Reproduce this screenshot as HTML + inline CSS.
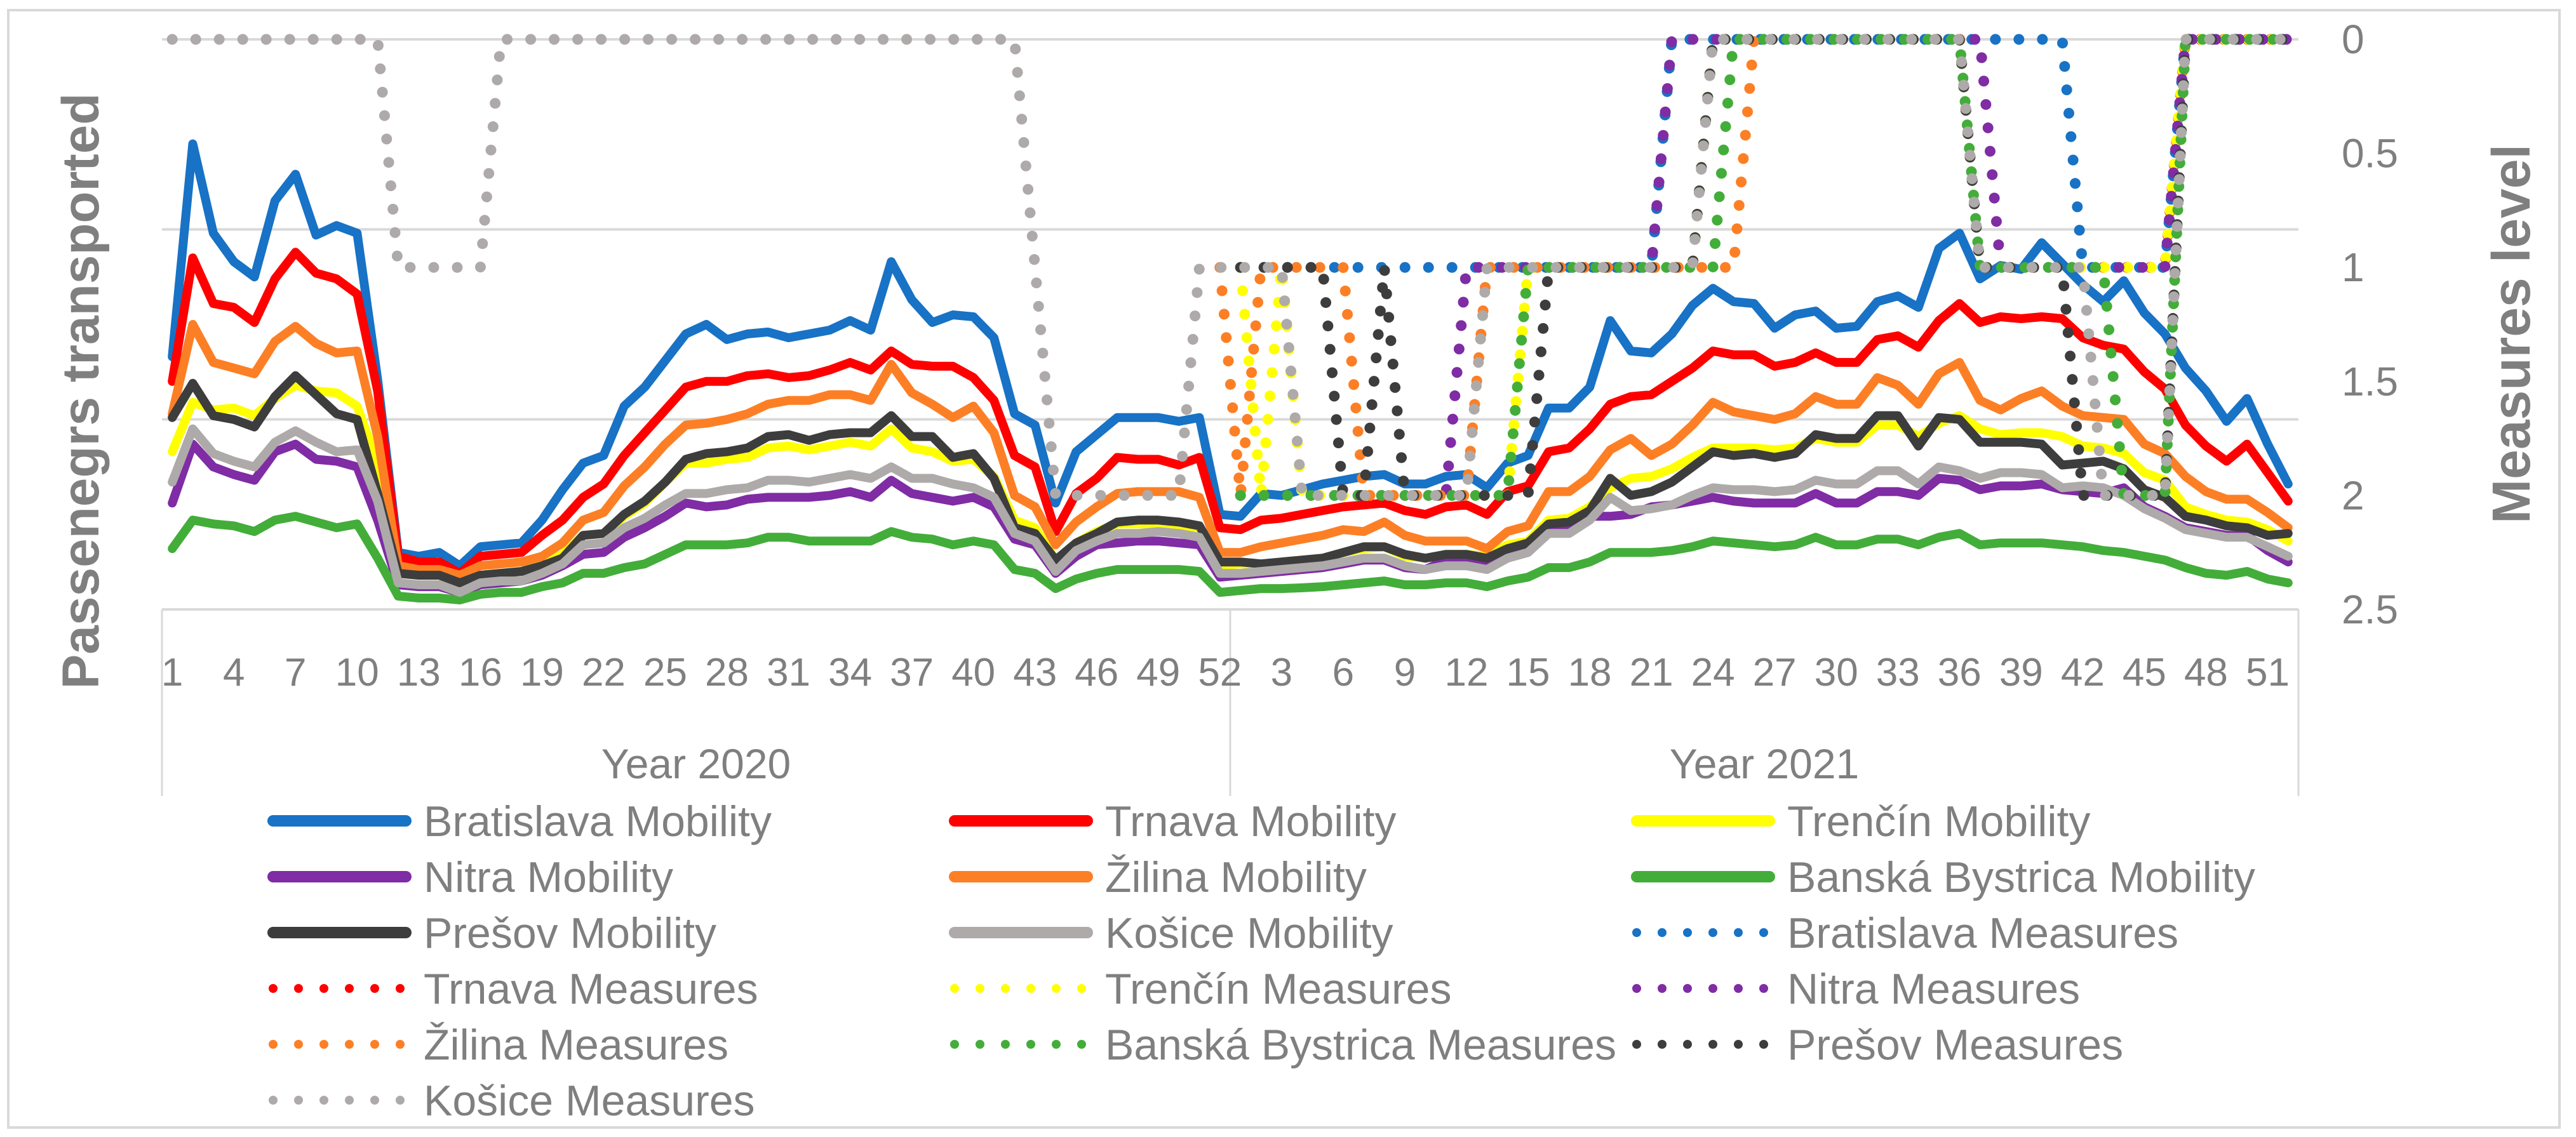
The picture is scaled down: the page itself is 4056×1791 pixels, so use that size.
<!DOCTYPE html>
<html><head><meta charset="utf-8"><style>
html,body{margin:0;padding:0;background:#fff;}
svg{display:block;font-family:"Liberation Sans",sans-serif;}
</style></head><body>
<svg id="chart" width="4056" height="1791" viewBox="0 0 4056 1791" xmlns="http://www.w3.org/2000/svg">
<rect x="13" y="16" width="4017" height="1760" fill="#fff" stroke="#d9d9d9" stroke-width="4"/>
<g id="grid"></g>
<g id="axes"></g>
<g id="series"></g>
<text transform="translate(155,616) rotate(-90)" text-anchor="middle" font-size="82" font-weight="bold" fill="#7f7f7f">Passenegrs transported</text>
<text transform="translate(3983,526) rotate(-90)" text-anchor="middle" font-size="84" font-weight="bold" fill="#7f7f7f">Measures level</text>
<g id="legend"></g>
</svg>
<script>
const weeks2020 = [1,2,3,4,5,6,7,8,9,10,11,12,13,14,15,16,17,18,19,20,21,22,23,24,25,26,27,28,29,30,31,32,33,34,35,36,37,38,39,40,41,42,43,44,45,46,47,48,49,50,51,52];
const weeks2021 = [1,2,3,4,5,6,7,8,9,10,11,12,13,14,15,16,17,18,19,20,21,22,23,24,25,26,27,28,29,30,31,32,33,34,35,36,37,38,39,40,41,42,43,44,45,46,47,48,49,50,51,52];
const yearLabels = ["Year 2020","Year 2021"];
const rightTicks = [0,0.5,1,1.5,2,2.5];
const leftGrid = [0,500,1000,1500];

const bratislavaMob = [665,1225,990,915,875,1075,1145,985,1010,990,605,150,140,150,115,165,170,175,235,315,385,405,535,585,655,725,
750,710,725,730,715,725,735,760,735,915,815,755,775,770,715,515,485,280,415,460,505,505,505,495,505,250,
245,305,300,315,330,340,350,355,330,330,350,355,320,385,405,530,530,585,760,680,675,725,800,845,810,805,
740,775,785,740,745,810,825,795,950,990,870,905,895,965,910,855,810,865,780,725,635,575,495,555,435,330];
const trnavaMob = [600,925,805,795,755,870,940,885,870,830,575,140,125,125,95,140,145,150,195,235,295,330,405,465,525,585,
600,600,615,620,610,615,630,650,630,680,645,640,640,610,550,405,375,205,305,345,400,395,395,380,400,215,
210,235,240,250,260,270,275,280,260,250,270,275,250,310,325,415,425,475,540,560,565,600,635,680,670,670,
640,650,675,650,650,710,720,690,760,805,755,770,765,770,765,715,695,685,625,580,485,430,390,435,360,285];
const trencinMob = [415,545,525,530,510,555,590,575,570,535,385,95,90,90,70,90,95,100,120,145,195,200,245,280,335,385,
385,395,400,425,430,420,430,440,430,475,425,415,390,395,350,235,215,130,175,205,225,225,225,220,215,115,
120,115,125,130,135,150,160,165,140,135,145,145,140,170,180,235,240,270,320,345,350,370,400,425,425,425,
420,425,450,440,440,485,485,455,490,510,475,460,465,465,455,430,425,410,360,340,270,250,235,230,210,180];
const nitraMob = [280,435,375,355,340,415,435,395,390,375,235,65,60,60,45,65,70,75,90,115,145,150,190,215,245,280,
270,275,290,295,295,295,300,310,295,340,305,295,285,295,270,185,170,95,140,170,175,180,180,175,170,85,
90,95,100,105,110,120,130,130,110,105,130,135,120,140,155,205,225,245,245,250,270,275,285,295,285,280,
280,280,305,280,280,310,310,300,345,340,315,325,325,330,315,310,305,320,270,245,215,205,195,195,155,125];
const zilinaMob = [515,750,650,635,620,705,745,700,675,680,455,115,105,105,90,115,120,125,140,175,235,255,325,375,435,485,
490,500,515,540,550,550,565,565,550,645,570,540,505,535,465,300,270,170,230,270,305,310,310,310,295,150,
150,165,175,185,195,210,205,230,195,180,180,180,160,205,220,310,310,350,420,450,405,435,485,545,520,510,
500,515,560,540,540,610,590,540,620,650,550,525,555,575,535,510,505,500,435,410,350,310,290,290,255,215];
const banskaBystricaMob = [160,235,225,220,205,235,245,230,215,225,135,35,30,30,25,40,45,45,60,70,95,95,110,120,145,170,
170,170,175,190,190,180,180,180,180,205,190,185,170,180,170,105,95,55,80,95,105,105,105,105,100,45,
50,55,55,57,60,65,70,75,65,65,70,70,60,75,85,110,110,125,150,150,150,155,165,180,175,170,
165,170,190,170,170,185,185,170,190,200,170,175,175,175,170,165,155,150,140,130,110,95,90,100,80,70];
const presovMob = [505,595,510,500,480,560,615,565,515,500,305,95,90,90,70,90,95,100,115,135,195,200,250,285,335,395,
410,415,425,455,460,445,460,465,465,510,455,455,400,410,345,215,200,130,175,200,230,235,235,230,220,125,
125,120,125,130,135,150,165,165,145,135,145,145,135,160,175,225,230,260,345,300,310,335,375,415,405,410,
400,410,460,450,450,510,510,430,505,500,440,440,440,435,380,385,390,370,315,295,245,235,220,215,195,200];
const kosiceMob = [335,475,410,390,375,440,470,440,415,420,285,70,65,65,45,70,75,75,95,120,170,175,215,240,275,305,
305,315,320,340,340,335,345,355,345,375,345,345,330,320,295,200,180,100,155,180,200,200,205,200,190,95,
95,100,105,110,115,125,135,135,115,105,115,115,105,135,150,200,200,235,295,260,265,275,300,320,315,315,
310,315,340,330,330,365,365,330,375,365,345,360,360,355,320,325,320,300,265,240,210,200,190,190,165,140];

const N = null;
const bratislavaMeas = [N,N,N,N,N,N,N,N,N,N,N,N,N,N,N,N,N,N,N,N,N,N,N,N,N,N,
N,N,N,N,N,N,N,N,N,N,N,N,N,N,N,N,N,N,N,N,N,N,N,N,N,N,
1,1,1,1,1,1,1,1,1,1,1,1,1,1,1,1,1,1,1,1,1,0,0,0,0,0,
0,0,0,0,0,0,0,0,0,0,0,0,0,0,0,1,1,1,1,1,0,0,0,0,0,0];
const trnavaMeas = [N,N,N,N,N,N,N,N,N,N,N,N,N,N,N,N,N,N,N,N,N,N,N,N,N,N,
N,N,N,N,N,N,N,N,N,N,N,N,N,N,N,N,N,N,N,N,N,N,N,N,N,N,
N,N,N,N,N,N,N,N,N,N,N,N,N,N,N,N,N,N,N,N,N,N,N,N,N,N,
N,N,N,N,N,N,N,N,N,0,1,1,1,1,1,1,1,1,1,1,0,0,0,0,0,0];
const trencinMeas = [N,N,N,N,N,N,N,N,N,N,N,N,N,N,N,N,N,N,N,N,N,N,N,N,N,N,
N,N,N,N,N,N,N,N,N,N,N,N,N,N,N,N,N,N,N,N,N,N,N,N,N,N,
1,2,1,2,2,2,2,2,2,2,2,2,2,2,1,1,1,1,1,1,1,1,1,0,0,0,
0,0,0,0,0,0,0,0,0,0,1,1,1,1,1,1,1,1,1,1,0,0,0,0,0,0];
const nitraMeas = [N,N,N,N,N,N,N,N,N,N,N,N,N,N,N,N,N,N,N,N,N,N,N,N,N,N,
N,N,N,N,N,N,N,N,N,N,N,N,N,N,N,N,N,N,N,N,N,N,N,N,N,N,
2,2,2,2,2,2,2,2,2,2,2,1,1,1,1,1,1,1,1,1,1,0,0,0,0,0,
0,0,0,0,0,0,0,0,0,0,0,1,1,1,1,1,1,1,1,1,0,0,0,0,0,0];
const zilinaMeas = [N,N,N,N,N,N,N,N,N,N,N,N,N,N,N,N,N,N,N,N,N,N,N,N,N,N,
N,N,N,N,N,N,N,N,N,N,N,N,N,N,N,N,N,N,N,N,N,N,N,N,N,1,
2,1,1,1,1,1,2,2,2,2,2,2,1,1,1,1,1,1,1,1,1,1,1,1,1,0,
0,N,N,N,N,N,N,N,N,N,N,N,N,N,N,N,N,N,N,N,N,N,N,N,N,N];
const banskaBystricaMeas = [N,N,N,N,N,N,N,N,N,N,N,N,N,N,N,N,N,N,N,N,N,N,N,N,N,N,
N,N,N,N,N,N,N,N,N,N,N,N,N,N,N,N,N,N,N,N,N,N,N,N,N,N,
2,2,2,2,2,2,2,2,2,2,2,2,2,2,1,1,1,1,1,1,1,1,1,1,0,0,
0,0,0,0,0,0,0,0,0,0,1,1,1,1,1,1,1,2,2,2,0,0,0,0,0,0];
const presovMeas = [N,N,N,N,N,N,N,N,N,N,N,N,N,N,N,N,N,N,N,N,N,N,N,N,N,N,
N,N,N,N,N,N,N,N,N,N,N,N,N,N,N,N,N,N,N,N,N,N,N,N,N,N,
1,1,1,1,1,2,2,1,2,2,2,2,2,2,2,1,1,1,1,1,1,1,1,0,0,0,
0,0,0,0,0,0,0,0,0,0,1,1,1,1,1,2,2,2,2,2,0,0,0,0,0,0];
const kosiceMeas = [0,0,0,0,0,0,0,0,0,0,0,1,1,1,1,1,0,0,0,0,0,0,0,0,0,0,
0,0,0,0,0,0,0,0,0,0,0,0,0,0,0,0,1,2,2,2,2,2,2,2,1,1,
1,1,1,2,2,2,2,2,2,2,2,2,1,1,1,1,1,1,1,1,1,1,1,0,0,0,
0,0,0,0,0,0,0,0,0,0,1,1,1,1,1,1,2,2,2,2,0,0,0,0,0,0];

const seriesNames = ["Bratislava","Trnava","Trenčín","Nitra","Žilina","Banská Bystrica","Prešov","Košice"];
const seriesColors = ["#1872c5","#ff0000","#ffff00","#7f2ca5","#fd7f25","#43ad3a","#3d3d3d","#aeaaaa"];
const mobility = [bratislavaMob,trnavaMob,trencinMob,nitraMob,zilinaMob,banskaBystricaMob,presovMob,kosiceMob];
const measures = [bratislavaMeas,trnavaMeas,trencinMeas,nitraMeas,zilinaMeas,banskaBystricaMeas,presovMeas,kosiceMeas];

const NS = "http://www.w3.org/2000/svg";
const PL = 255, PR = 3619, PT = 62, PB = 960;
const nCat = weeks2020.length + weeks2021.length;
const band = (PR - PL) / nCat;
function xPos(i){ return PL + (i + 0.5) * band; }
function yLeft(v){ return PB - v / 1500 * (PB - PT); }
function yRight(m){ return PT + m / 2.5 * (PB - PT); }
function mk(tag, attrs, parent){ const e = document.createElementNS(NS, tag); for (const k in attrs) e.setAttribute(k, attrs[k]); parent.appendChild(e); return e; }

const grid = document.getElementById('grid');
leftGrid.forEach(v => {
  const l = mk('line', {x1:PL, x2:PR, y1:yLeft(v), y2:yLeft(v), stroke:'#d9d9d9', 'stroke-width':4}, grid);
  
  
});

const axes = document.getElementById('axes');
[PL, PL + weeks2020.length * band, PR].forEach(x => {
  const l = mk('line', {x1:x, x2:x, y1:PB, y2:1254, stroke:'#d9d9d9', 'stroke-width':3}, axes);
  
  
});
weeks2020.forEach((w, i) => {
  if ((w - 1) % 3 !== 0) return;
  const t = mk('text', {x:xPos(i), y:1080, 'text-anchor':'middle', 'font-size':62, fill:'#7f7f7f'}, axes);
  t.textContent = w;
  
  
});
weeks2021.forEach((w, j) => {
  if (w % 3 !== 0) return;
  const t = mk('text', {x:xPos(weeks2020.length + j), y:1080, 'text-anchor':'middle', 'font-size':62, fill:'#7f7f7f'}, axes);
  t.textContent = w;
  
  
});
yearLabels.forEach((lab, k) => {
  const cx = k === 0 ? PL + weeks2020.length * band / 2 : PL + weeks2020.length * band + weeks2021.length * band / 2;
  const t = mk('text', {x:cx, y:1226, 'text-anchor':'middle', 'font-size':66, fill:'#7f7f7f'}, axes);
  t.textContent = lab;
  
  
});
rightTicks.forEach(m => {
  const t = mk('text', {x:3687, y:yRight(m) + 22, 'font-size':64, fill:'#7f7f7f'}, axes);
  t.textContent = String(m);
  
  
});

function pathFor(arr, yf){
  let d = '', started = false;
  arr.forEach((v, i) => {
    if (v === null || v === undefined) { started = false; return; }
    d += (started ? 'L' : 'M') + xPos(i).toFixed(1) + ' ' + yf(v).toFixed(1) + ' ';
    started = true;
  });
  return d;
}
const sg = document.getElementById('series');
mobility.forEach((arr, k) => {
  const p = mk('path', {d:pathFor(arr, yLeft), fill:'none', stroke:seriesColors[k], 'stroke-width':14, 'stroke-linejoin':'round', 'stroke-linecap':'round'}, sg);
  
  
});
measures.forEach((arr, k) => {
  const p = mk('path', {d:pathFor(arr, yRight), fill:'none', stroke:seriesColors[k], 'stroke-width':17, 'stroke-dasharray':'0 37', 'stroke-linecap':'round', 'stroke-linejoin':'round'}, sg);
  
  
});

const lg = document.getElementById('legend');
const legendItems = [];
seriesNames.forEach((n, k) => legendItems.push({label:n + ' Mobility', color:seriesColors[k], dotted:false}));
seriesNames.forEach((n, k) => legendItems.push({label:n + ' Measures', color:seriesColors[k], dotted:true}));
const colX = [422, 1495, 2569];
const rowY = [1293, 1381, 1469, 1557, 1645, 1733];
legendItems.forEach((it, idx) => {
  const c = idx % 3, r = Math.floor(idx / 3);
  const g = mk('g', {}, lg);
  
  
  const x0 = colX[c], y0 = rowY[r];
  if (it.dotted) {
    mk('line', {x1:x0 + 8, x2:x0 + 210, y1:y0, y2:y0, stroke:it.color, 'stroke-width':14, 'stroke-dasharray':'0 40', 'stroke-linecap':'round'}, g);
  } else {
    mk('line', {x1:x0 + 8, x2:x0 + 217, y1:y0, y2:y0, stroke:it.color, 'stroke-width':18, 'stroke-linecap':'round'}, g);
  }
  const t = mk('text', {x:x0 + 245, y:y0 + 24, 'font-size':68, fill:'#7f7f7f'}, g);
  t.textContent = it.label;
});
</script>
</body></html>
